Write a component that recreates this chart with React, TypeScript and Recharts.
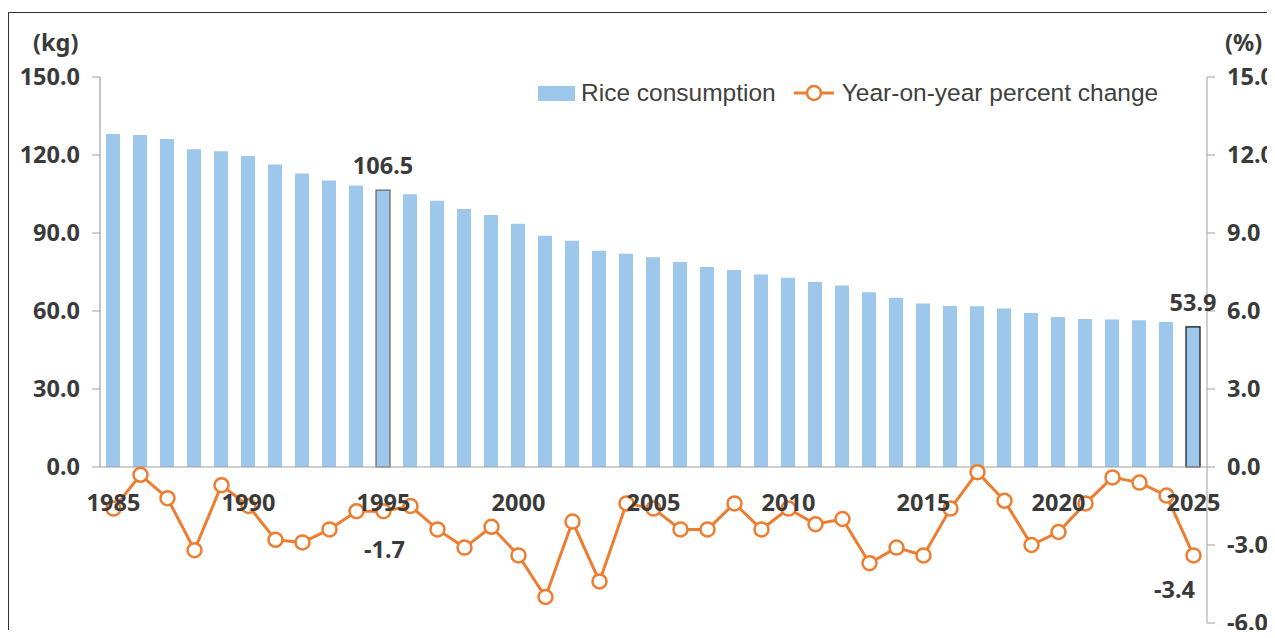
import React from 'react';
import {
  ComposedChart, Bar, Line, XAxis, YAxis, ReferenceLine, Legend, Cell, LabelList,
} from 'recharts';

const years: number[] = [
  1985, 1986, 1987, 1988, 1989, 1990, 1991, 1992, 1993, 1994,
  1995, 1996, 1997, 1998, 1999, 2000, 2001, 2002, 2003, 2004,
  2005, 2006, 2007, 2008, 2009, 2010, 2011, 2012, 2013, 2014,
  2015, 2016, 2017, 2018, 2019, 2020, 2021, 2022, 2023, 2024, 2025,
];
const consumption: number[] = [
  128.1, 127.7, 126.2, 122.2, 121.4, 119.6, 116.3, 112.9, 110.2, 108.3,
  106.5, 104.9, 102.4, 99.2, 96.9, 93.6, 88.9, 87.0, 83.2, 82.0,
  80.7, 78.8, 76.9, 75.8, 74.0, 72.8, 71.2, 69.8, 67.2, 65.1,
  62.9, 61.9, 61.8, 61.0, 59.2, 57.7, 56.9, 56.7, 56.4, 55.8, 53.9,
];
const yoyChange: number[] = [
  -1.6, -0.3, -1.2, -3.2, -0.7, -1.5, -2.8, -2.9, -2.4, -1.7,
  -1.7, -1.5, -2.4, -3.1, -2.3, -3.4, -5.0, -2.1, -4.4, -1.4,
  -1.6, -2.4, -2.4, -1.4, -2.4, -1.6, -2.2, -2.0, -3.7, -3.1,
  -3.4, -1.6, -0.2, -1.3, -3.0, -2.5, -1.4, -0.4, -0.6, -1.1, -3.4,
];
const xTicks: number[] = [1985, 1990, 1995, 2000, 2005, 2010, 2015, 2020, 2025];
const leftTicks: number[] = [0, 30, 60, 90, 120, 150];
const rightTicks: number[] = [-6, -3, 0, 3, 6, 9, 12, 15];
const labelledYears: number[] = [1995, 2025];

const data = years.map((year, i) => ({
  year,
  consumption: consumption[i],
  yoy: yoyChange[i],
}));

const BAR_COLOR = '#9DC8EB';
const LINE_COLOR = '#ED7D31';
const AXIS_COLOR = '#A0A0A0';
const TEXT_COLOR = '#3A3A3A';
const NUM_FONT = '"Noto Sans", sans-serif';
const LEGEND_FONT = '"Liberation Sans", Arial, sans-serif';
const NUM_SIZE = 23.5;

const XTick = (props: any) => {
  const { x, y, payload } = props;
  return (
    <text
      x={x}
      y={y - 129}
      textAnchor="middle"
      dominantBaseline="central"
      fontFamily={NUM_FONT}
      fontWeight={700}
      fontSize={NUM_SIZE}
      fill={TEXT_COLOR}
    >
      {payload.value}
    </text>
  );
};

const BarLabel = (props: any) => {
  const { x, y, width, index } = props;
  const d = data[index];
  if (!labelledYears.includes(d.year)) return null;
  return (
    <text
      x={x + width / 2}
      y={y - 25}
      textAnchor="middle"
      dominantBaseline="central"
      fontFamily={NUM_FONT}
      fontWeight={700}
      fontSize={NUM_SIZE}
      fill={TEXT_COLOR}
    >
      {d.consumption.toFixed(1)}
    </text>
  );
};

const LineLabel = (props: any) => {
  const { x, y, index } = props;
  const d = data[index];
  if (!labelledYears.includes(d.year)) return null;
  const isLast = index === data.length - 1;
  return (
    <text
      x={x + (isLast ? -19 : 1)}
      y={y + (isLast ? 34 : 38)}
      textAnchor="middle"
      dominantBaseline="central"
      fontFamily={NUM_FONT}
      fontWeight={700}
      fontSize={NUM_SIZE}
      fill={TEXT_COLOR}
    >
      {d.yoy.toFixed(1)}
    </text>
  );
};

const LegendContent = () => (
  <div style={{ display: 'flex', alignItems: 'center', fontFamily: LEGEND_FONT, fontSize: 24.5, color: '#404040', whiteSpace: 'nowrap' }}>
    <svg width={37} height={15} style={{ marginRight: 6 }}>
      <rect x={0} y={0} width={37} height={15} fill={BAR_COLOR} />
    </svg>
    <span>Rice consumption</span>
    <svg width={42} height={20} style={{ marginLeft: 17, marginRight: 7 }}>
      <line x1={1} y1={10} x2={41} y2={10} stroke={LINE_COLOR} strokeWidth={3} />
      <circle cx={21} cy={10} r={7} fill="#fff" stroke={LINE_COLOR} strokeWidth={2.5} />
    </svg>
    <span>Year-on-year percent change</span>
  </div>
);

export default function App() {
  return (
    <div style={{ position: 'relative', width: 1267, height: 622 }}>
      <style>{'svg.recharts-surface { overflow: visible; }'}</style>
      <div
        style={{
          position: 'absolute', left: 0, top: 4, width: 1267, height: 618,
          borderTop: '1.5px solid #333', borderLeft: '1.5px solid #333', boxSizing: 'border-box',
        }}
      />
      <div style={{ position: 'absolute', left: 25, top: 18, fontFamily: NUM_FONT, fontWeight: 700, fontSize: NUM_SIZE, color: TEXT_COLOR }}>(kg)</div>
      <div style={{ position: 'absolute', left: 1217, top: 18, fontFamily: NUM_FONT, fontWeight: 700, fontSize: NUM_SIZE, color: TEXT_COLOR }}>(%)</div>
      <ComposedChart
        width={1267}
        height={622}
        data={data}
        margin={{ top: 69, right: 0, bottom: 6, left: 0 }}
        style={{ position: 'absolute', left: 0, top: 0 }}
      >
        <XAxis
          dataKey="year"
          type="number"
          domain={[1984.5, 2025.5]}
          ticks={xTicks}
          axisLine={false}
          tickLine={false}
          tick={<XTick />}
          height={1}
          interval={0}
        />
        <YAxis
          yAxisId="left"
          orientation="left"
          width={92}
          domain={[-60, 150]}
          ticks={leftTicks}
          tickFormatter={(v: number) => v.toFixed(1)}
          axisLine={false}
          tickLine={{ stroke: AXIS_COLOR }}
          tickSize={8}
          tickMargin={12}
          tick={{ fontFamily: NUM_FONT, fontWeight: 700, fontSize: NUM_SIZE, fill: TEXT_COLOR }}
          interval={0}
        />
        <YAxis
          yAxisId="right"
          orientation="right"
          width={68}
          domain={[-6, 15]}
          ticks={rightTicks}
          tickFormatter={(v: number) => v.toFixed(1)}
          axisLine={{ stroke: AXIS_COLOR }}
          tickLine={{ stroke: AXIS_COLOR }}
          tickSize={8}
          tickMargin={12}
          tick={{ fontFamily: NUM_FONT, fontWeight: 700, fontSize: NUM_SIZE, fill: TEXT_COLOR }}
          interval={0}
        />
        <Legend
          verticalAlign="middle"
          align="center"
          layout="horizontal"
          content={<LegendContent />}
          wrapperStyle={{ position: 'absolute', top: 71, left: 530, width: 'auto' }}
        />
        <Bar yAxisId="left" dataKey="consumption" barSize={14} isAnimationActive={false} fill={BAR_COLOR}>
          {data.map((d) => (
            <Cell
              key={d.year}
              fill={BAR_COLOR}
              stroke={labelledYears.includes(d.year) ? (d.year === 2025 ? '#111' : '#666') : 'none'}
              strokeWidth={labelledYears.includes(d.year) ? 1.2 : 0}
            />
          ))}
          <LabelList dataKey="consumption" content={<BarLabel />} />
        </Bar>
        <ReferenceLine yAxisId="left" y={0} stroke={AXIS_COLOR} strokeWidth={1.2} />
        <ReferenceLine
          yAxisId="left"
          segment={[{ x: 1984.5, y: 0 }, { x: 1984.5, y: 150 }]}
          stroke={AXIS_COLOR}
          strokeWidth={1.2}
        />
        <Line
          yAxisId="right"
          dataKey="yoy"
          stroke={LINE_COLOR}
          strokeWidth={3}
          dot={{ r: 7, fill: '#fff', stroke: LINE_COLOR, strokeWidth: 2.5 }}
          isAnimationActive={false}
        >
          <LabelList dataKey="yoy" content={<LineLabel />} />
        </Line>
      </ComposedChart>
    </div>
  );
}
